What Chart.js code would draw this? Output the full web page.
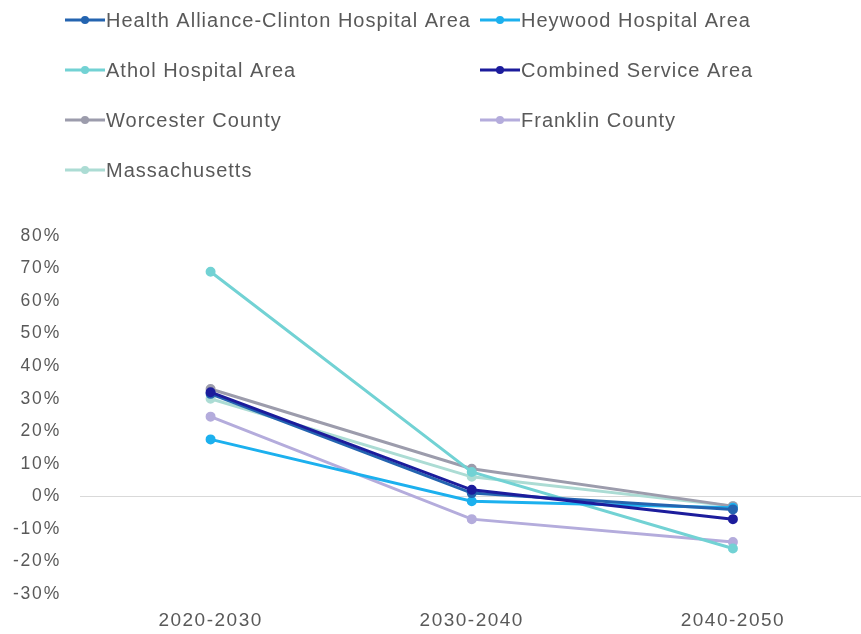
<!DOCTYPE html>
<html>
<head>
<meta charset="utf-8">
<script src="https://cdn.jsdelivr.net/npm/chart.js@4"></script>
<style>
  html, body { margin: 0; padding: 0; background: #fff; overflow: hidden; }
  #wrap { width: 870px; height: 634px; }
</style>
</head>
<body>
<div id="wrap"><canvas id="c" width="870" height="634"></canvas></div>
<script>
const categories = ["2020-2030", "2030-2040", "2040-2050"];
const healthAlliance = [31.5, 1, -4];
const heywood = [17.5, -1.5, -3.5];
const athol = [69, 7.5, -16];
const combined = [32, 2, -7];
const worcester = [33, 8.5, -3];
const franklin = [24.5, -7, -14];
const massachusetts = [30, 6, -3];
const yTicks = [80, 70, 60, 50, 40, 30, 20, 10, 0, -10, -20, -30];

const seriesNames = ["Health Alliance-Clinton Hospital Area", "Heywood Hospital Area", "Athol Hospital Area", "Combined Service Area", "Worcester County", "Franklin County", "Massachusetts"];
const seriesData = [healthAlliance, heywood, athol, combined, worcester, franklin, massachusetts];
const seriesColors = ["#2464b0", "#1cb0ee", "#72d2d4", "#1c1c9c", "#9c9cac", "#b4acdc", "#acdcd4"];

const datasets = seriesNames.map((n, i) => ({
  label: n,
  data: seriesData[i],
  borderColor: seriesColors[i],
  backgroundColor: seriesColors[i],
  borderWidth: 3,
  pointRadius: 3.5,
  pointHoverRadius: 3.5,
  fill: false,
  tension: 0
}));
const order = [6, 5, 4, 2, 1, 0, 3];
datasets.forEach((d, i) => { d.order = 10 - order.indexOf(i); });

const FONT = '"Liberation Sans", Arial, sans-serif';

function spaced(s, spacing) {
  if (s._spacedWrapped) return;
  s._spacedWrapped = true;
  const orig = s.drawLabels;
  s.drawLabels = function (ca) {
    const ctx = this.ctx;
    const prev = ctx.letterSpacing;
    ctx.letterSpacing = spacing;
    orig.call(this, ca);
    ctx.letterSpacing = prev || '0px';
  };
}

const legendPlugin = {
  id: 'gridLegend',
  afterDraw(chart) {
    const ctx = chart.ctx;
    ctx.save();
    ctx.font = '20px ' + FONT;
    ctx.letterSpacing = '1px';
    ctx.textBaseline = 'middle';
    const cols = [65, 480];
    seriesNames.forEach((n, i) => {
      const col = i % 2, row = Math.floor(i / 2);
      const x = cols[col], y = 20 + row * 50;
      ctx.strokeStyle = seriesColors[i];
      ctx.lineWidth = 3;
      ctx.beginPath(); ctx.moveTo(x, y); ctx.lineTo(x + 40, y); ctx.stroke();
      ctx.fillStyle = seriesColors[i];
      ctx.beginPath(); ctx.arc(x + 20, y, 4, 0, Math.PI * 2); ctx.fill();
      ctx.fillStyle = '#595959';
      ctx.fillText(n, x + 41, y + 1);
    });
    ctx.letterSpacing = '0px';
    ctx.restore();
  }
};

new Chart(document.getElementById('c'), {
  type: 'line',
  data: { labels: categories, datasets },
  plugins: [legendPlugin],
  options: {
    responsive: false,
    animation: false,
    layout: { padding: { top: 236, right: 0, bottom: 0, left: 0 } },
    plugins: { legend: { display: false }, tooltip: { enabled: false } },
    scales: {
      x: {
        offset: true,
        afterFit(s) { s.height = 40; spaced(s, '1.5px'); },
        grid: { display: false, drawTicks: false },
        border: { display: false },
        ticks: { color: '#595959', font: { size: 19, family: FONT }, padding: 15 }
      },
      y: {
        min: -30, max: 80,
        afterFit(s) { s.width = 80; spaced(s, '1.8px'); },
        afterBuildTicks(s) { s.ticks = yTicks.map(v => ({ value: v })); },
        grid: { drawTicks: false, color: c => (c.tick && c.tick.value === 0 ? '#d9d9d9' : 'rgba(0,0,0,0)'), lineWidth: 1 },
        border: { display: false },
        ticks: { color: '#595959', padding: 19, font: { size: 17.5, family: FONT }, callback: v => v + '%' }
      }
    }
  }
});
</script>
</body>
</html>
